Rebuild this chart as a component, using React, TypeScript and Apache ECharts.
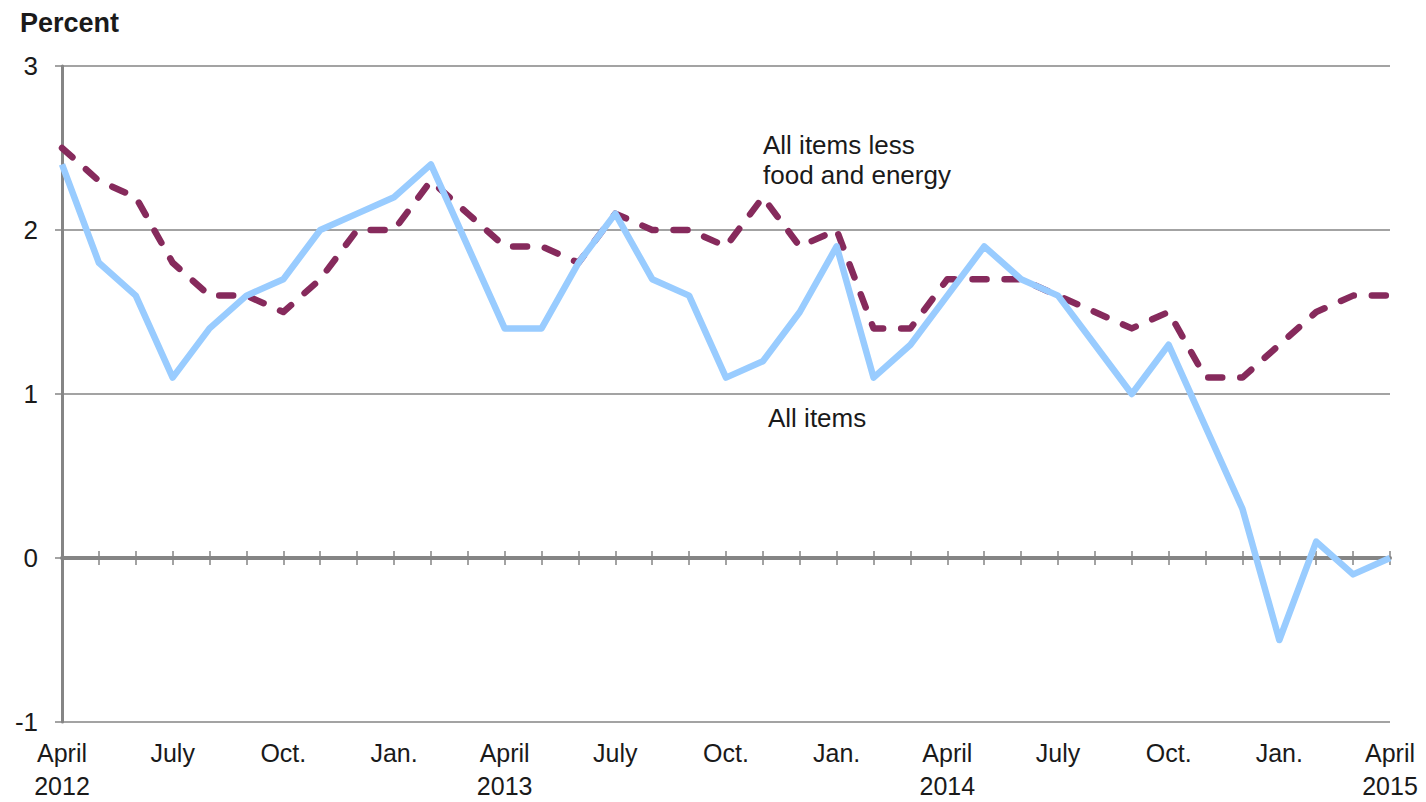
import React, { useEffect, useRef } from "react";
import * as echarts from "echarts";

const categories = [
  "Apr 2012", "May 2012", "Jun 2012", "Jul 2012", "Aug 2012", "Sep 2012", "Oct 2012", "Nov 2012", "Dec 2012",
  "Jan 2013", "Feb 2013", "Mar 2013", "Apr 2013", "May 2013", "Jun 2013", "Jul 2013", "Aug 2013", "Sep 2013",
  "Oct 2013", "Nov 2013", "Dec 2013", "Jan 2014", "Feb 2014", "Mar 2014", "Apr 2014", "May 2014", "Jun 2014",
  "Jul 2014", "Aug 2014", "Sep 2014", "Oct 2014", "Nov 2014", "Dec 2014", "Jan 2015", "Feb 2015", "Mar 2015",
  "Apr 2015",
];

const tickLabels = [
  "April\n2012", "July", "Oct.", "Jan.",
  "April\n2013", "July", "Oct.", "Jan.",
  "April\n2014", "July", "Oct.", "Jan.",
  "April\n2015",
];

const allItems = [
  2.4, 1.8, 1.6, 1.1, 1.4, 1.6, 1.7, 2.0, 2.1, 2.2, 2.4, 1.9, 1.4, 1.4, 1.8, 2.1, 1.7, 1.6, 1.1,
  1.2, 1.5, 1.9, 1.1, 1.3, 1.6, 1.9, 1.7, 1.6, 1.3, 1.0, 1.3, 0.8, 0.3, -0.5, 0.1, -0.1, 0.0,
];

const lessFoodEnergy = [
  2.5, 2.3, 2.2, 1.8, 1.6, 1.6, 1.5, 1.7, 2.0, 2.0, 2.3, 2.1, 1.9, 1.9, 1.8, 2.1, 2.0, 2.0, 1.9,
  2.2, 1.9, 2.0, 1.4, 1.4, 1.7, 1.7, 1.7, 1.6, 1.5, 1.4, 1.5, 1.1, 1.1, 1.3, 1.5, 1.6, 1.6,
];

const FONT = "'Liberation Sans', Arial, sans-serif";
const TEXT = "#1a1a1a";
const GRAY = "#858585";

export default function App() {
  const ref = useRef<HTMLDivElement>(null);

  useEffect(() => {
    if (!ref.current) return;
    const chart = echarts.init(ref.current, null, { renderer: "svg" });
    const baseX = {
      type: "category" as const,
      data: categories,
      boundaryGap: false,
      position: "bottom" as const,
      splitLine: { show: false },
    };
    chart.setOption({
      animation: false,
      backgroundColor: "#ffffff",
      textStyle: { fontFamily: FONT },
      grid: { left: 62, right: 36, top: 66, bottom: 76, containLabel: false },
      xAxis: [
        {
          ...baseX,
          axisLine: { show: true, onZero: true, onZeroAxisIndex: 0, lineStyle: { color: GRAY, width: 4 } },
          axisTick: { show: true, inside: false, length: 7, interval: 0, lineStyle: { color: GRAY, width: 1.5 } },
          axisLabel: { show: false },
          z: 3,
        },
        {
          ...baseX,
          axisLine: { show: false, onZero: true, onZeroAxisIndex: 0 },
          axisTick: { show: true, inside: true, length: 7, interval: 0, lineStyle: { color: GRAY, width: 1.5 } },
          axisLabel: { show: false },
        },
        {
          ...baseX,
          axisLine: { show: false, onZero: false },
          axisTick: { show: false },
          axisLabel: {
            show: true,
            interval: (idx: number) => idx % 3 === 0,
            formatter: (_v: string, idx: number) => (idx % 3 === 0 ? tickLabels[idx / 3] : ""),
            color: TEXT,
            fontSize: 25,
            fontFamily: FONT,
            lineHeight: 33,
            margin: 14,
          },
        },
      ],
      yAxis: {
        type: "value",
        min: -1,
        max: 3,
        interval: 1,
        axisLine: { show: true, onZero: false, lineStyle: { color: GRAY, width: 3 } },
        axisTick: { show: true, length: 7, lineStyle: { color: GRAY, width: 1.5 } },
        axisLabel: { color: TEXT, fontSize: 26, fontFamily: FONT, margin: 24 },
        splitLine: { show: true, lineStyle: { color: GRAY, width: 1.5 } },
      },
      series: [
        {
          name: "All items less food and energy",
          type: "line",
          xAxisIndex: 0,
          data: lessFoodEnergy,
          symbol: "none",
          lineStyle: { color: "#862a5c", width: 6.5, type: [14, 18], cap: "round", join: "round" },
          z: 4,
        },
        {
          name: "All items",
          type: "line",
          xAxisIndex: 0,
          data: allItems,
          symbol: "none",
          lineStyle: { color: "#99ccff", width: 6.5, join: "round" },
          z: 5,
        },
      ],
      graphic: [
        {
          type: "text",
          left: 20,
          top: 9,
          style: { text: "Percent", font: `bold 27px ${FONT}`, fill: TEXT },
        },
        {
          type: "text",
          left: 763,
          top: 130,
          style: {
            text: "All items less\nfood and energy",
            font: `26px ${FONT}`,
            fill: TEXT,
            lineHeight: 30,
          },
        },
        {
          type: "text",
          left: 768,
          top: 405,
          style: { text: "All items", font: `26px ${FONT}`, fill: TEXT },
        },
      ],
    });
    return () => chart.dispose();
  }, []);

  return (
    <div
      ref={ref}
      style={{ position: "fixed", left: 0, top: 0, width: 1426, height: 802, background: "#fff" }}
    />
  );
}
